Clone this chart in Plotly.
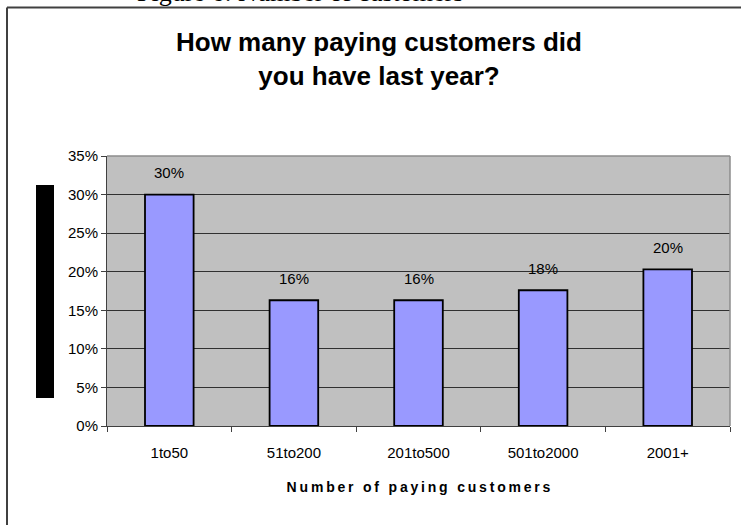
import plotly.graph_objects as go

# Survey results: share of respondents per customer-count bracket
categories = ["1to50", "51to200", "201to500", "501to2000", "2001+"]
shares = [0.300, 0.163, 0.163, 0.176, 0.203]
y_ticks = [0.00, 0.05, 0.10, 0.15, 0.20, 0.25, 0.30, 0.35]
y_tick_labels = ["0%", "5%", "10%", "15%", "20%", "25%", "30%", "35%"]

W, H = 741, 525
ML, MR, MT, MB = 107, 11, 156, 99
PW, PH = W - ML - MR, H - MT - MB


def px_x(x):
    """Pixel column -> paper x."""
    return (x - ML) / PW


def px_y(y):
    """Pixel row -> paper y."""
    return (H - MB - y) / PH


fig = go.Figure(
    go.Bar(
        x=categories,
        y=shares,
        width=0.39,
        marker=dict(color="#9999FF", line=dict(color="#000000", width=1.8)),
        hoverinfo="skip",
    )
)

# Value labels above each bar
for cat, v in zip(categories, shares):
    fig.add_annotation(
        x=cat, y=v, xref="x", yref="y",
        text=f"{round(v * 100)}%",
        showarrow=False, yanchor="middle", yshift=22,
        font=dict(family="Arial, Liberation Sans", size=15, color="#000000"),
    )

# Chart title
fig.add_annotation(
    x=px_x(379), y=px_y(59), xref="paper", yref="paper",
    text="How many paying customers did<br>you have last year?",
    showarrow=False, xanchor="center", yanchor="middle",
    font=dict(family="Arial, Liberation Sans", size=26, color="#000000", weight="bold"),
)

# Document caption above the chart frame (partly off the page)
fig.add_annotation(
    x=px_x(135), y=px_y(9), xref="paper", yref="paper",
    text="Figure 6: Number of customers",
    showarrow=False, xanchor="left", yanchor="bottom",
    font=dict(family="Times New Roman, Liberation Serif", size=26, color="#000000"),
)

axis_title = "\u2009".join("Number of paying customers")

fig.update_layout(
    width=W, height=H,
    margin=dict(l=ML, r=MR, t=MT, b=MB),
    paper_bgcolor="#FFFFFF",
    plot_bgcolor="#C0C0C0",
    showlegend=False,
    xaxis=dict(
        showline=True, linecolor="#404040", linewidth=1,
        ticks="outside", tickson="boundaries", ticklen=5, tickcolor="#404040",
        showgrid=False, ticklabelstandoff=13,
        tickfont=dict(family="Arial, Liberation Sans", size=15, color="#000000"),
        title=dict(
            text=axis_title, standoff=22,
            font=dict(family="Arial, Liberation Sans", size=14, color="#000000", weight="bold"),
        ),
    ),
    yaxis=dict(
        range=[0, 0.35],
        tickvals=y_ticks, ticktext=y_tick_labels,
        showline=True, linecolor="#404040", linewidth=1,
        ticks="outside", ticklen=5, tickcolor="#404040",
        showgrid=True, gridcolor="#303030", gridwidth=1,
        zeroline=False,
        tickfont=dict(family="Arial, Liberation Sans", size=15, color="#000000"),
    ),
    shapes=[
        # grey top and right edges of the plot area
        dict(type="line", xref="paper", yref="paper", x0=0, x1=1, y0=1, y1=1,
             line=dict(color="#8C8C8C", width=1.5), layer="above"),
        dict(type="line", xref="paper", yref="paper", x0=1, x1=1, y0=0, y1=1,
             line=dict(color="#8C8C8C", width=1.5), layer="above"),
        # solid block where the vertical axis title sits
        dict(type="rect", xref="paper", yref="paper",
             x0=px_x(36), x1=px_x(54), y0=px_y(398), y1=px_y(185),
             fillcolor="#000000", line=dict(width=0)),
        # outer chart frame (top and left edges)
        dict(type="line", xref="paper", yref="paper",
             x0=px_x(7), x1=px_x(745), y0=px_y(7.5), y1=px_y(7.5),
             line=dict(color="#404040", width=2)),
        dict(type="line", xref="paper", yref="paper",
             x0=px_x(7), x1=px_x(7), y0=px_y(7.5), y1=px_y(530),
             line=dict(color="#404040", width=2)),
    ],
)

fig.write_html("out.html")
